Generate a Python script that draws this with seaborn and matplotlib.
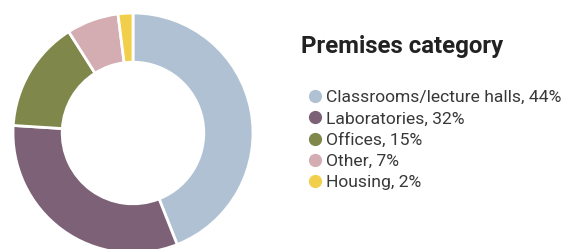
import matplotlib
matplotlib.use("Agg")
import matplotlib.pyplot as plt
import seaborn as sns
from matplotlib.lines import Line2D

# data
categories = ["Classrooms/lecture halls", "Laboratories", "Offices", "Other", "Housing"]
shares = [44, 32, 15, 7, 2]
colors = ["#b0c1d4", "#7d6177", "#7f874a", "#d4adb2", "#f2cf4a"]

sns.set_theme(style="white")
plt.rcParams['font.family'] = ['Roboto', 'DejaVu Sans']

fig = plt.figure(figsize=(5.65, 2.49), dpi=100)
ax = fig.add_axes([13/565, -4/249, 240/565, 240/249])

ax.pie(shares, colors=sns.color_palette(colors), startangle=90, counterclock=False,
       radius=1.0, wedgeprops=dict(width=0.41, edgecolor="white", linewidth=2))
ax.set_xlim(-1, 1)
ax.set_ylim(-1, 1)
ax.set_aspect("equal")
ax.axis("off")

fig.text(301/565, 1 - 46/249, "Premises category", fontsize=17.3, fontweight="semibold",
         color="#222222", va="center", ha="left")

handles = [Line2D([0], [0], marker="o", linestyle="", markersize=8.5,
                  markerfacecolor=c, markeredgecolor=c) for c in colors]
labels = [f"{c}, {s}%" for c, s in zip(categories, shares)]
fig.legend(handles, labels, loc="upper left", bbox_to_anchor=(299/565, 1 - 81/249),
           frameon=False, fontsize=12.6, handletextpad=0.25, labelspacing=0.35,
           borderpad=0, handlelength=0.8, labelcolor="#383838")

fig.savefig("out.png", dpi=100)
